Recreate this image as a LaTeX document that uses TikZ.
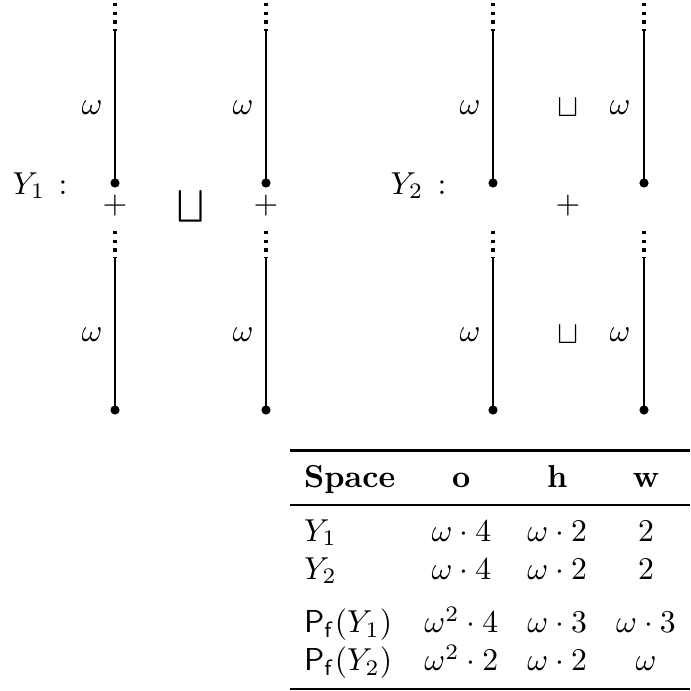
\documentclass[tikz,border=0pt]{standalone}
\usepackage{amsmath,amssymb}
\usepackage{booktabs}
\begin{document}
\begin{tikzpicture}[x=0.3155pt,y=-0.3155pt,
  seg/.style={line width=0.75pt},
  dotseg/.style={line width=1pt, dash pattern=on 1pt off 1.75pt},
  vtx/.style={circle,fill,inner sep=0pt,minimum size=2.9pt},
  lbl/.style={inner sep=0pt}]
\useasboundingbox (0,0) rectangle (691,691);

\foreach \x/\n in {115/a,266/b,493/c,644/d}{
  \coordinate (\n t0) at (\x,3);
  \coordinate (\n t1) at (\x,31);
  \node[vtx] (\n tp) at (\x,183) {};
  \coordinate (\n b0) at (\x,231);
  \coordinate (\n b1) at (\x,258);
  \node[vtx] (\n bp) at (\x,410) {};
  \draw[dotseg] (\n t0) -- (\n t1);
  \draw[seg] (\n t1) -- (\n tp.center);
  \draw[dotseg] (\n b0) -- (\n b1);
  \draw[seg] (\n b1) -- (\n bp.center);
}

% omega labels
\foreach \x/\n in {92/a,243/b,470/c,620/d}{
  \node[lbl] (w\n t) at (\x,108) {$\omega$};
  \node[lbl] (w\n b) at (\x,335) {$\omega$};
}

% Y1 part
\node[lbl,anchor=base west] (Y1) at (12,194) {$Y_1$};
\node[lbl,anchor=base] (c1) at (63,194) {$:$};
\node[lbl] (p1) at (115,206) {$+$};
\node[lbl] (p2) at (266,206) {$+$};
\node[lbl] (bsq) at (191,206) {$\bigsqcup$};

% Y2 part
\node[lbl,anchor=base west] (Y2) at (390,194) {$Y_2$};
\node[lbl,anchor=base] (c2) at (442,194) {$:$};
\node[lbl] (sq1) at (568,108) {$\sqcup$};
\node[lbl] (p3) at (568,206) {$+$};
\node[lbl] (sq2) at (568,335) {$\sqcup$};

% table
\node[anchor=south east, inner sep=0pt] (tab) at (691,691) {%
\setlength{\tabcolsep}{4.6pt}%
\begin{tabular}{lccc}
\toprule
\textbf{Space} & \textbf{o} & \textbf{h} & \textbf{w}\\
\midrule
$Y_1$ & $\omega\cdot 4$ & $\omega\cdot 2$ & $2$\\
$Y_2$ & $\omega\cdot 4$ & $\omega\cdot 2$ & $2$\\
\addlinespace
$\mathsf{P}_{\mathsf{f}}(Y_1)$ & $\omega^2\cdot 4$ & $\omega\cdot 3$ & $\omega\cdot 3$\\
$\mathsf{P}_{\mathsf{f}}(Y_2)$ & $\omega^2\cdot 2$ & $\omega\cdot 2$ & $\omega$\\
\bottomrule
\end{tabular}};
\end{tikzpicture}
\end{document}
